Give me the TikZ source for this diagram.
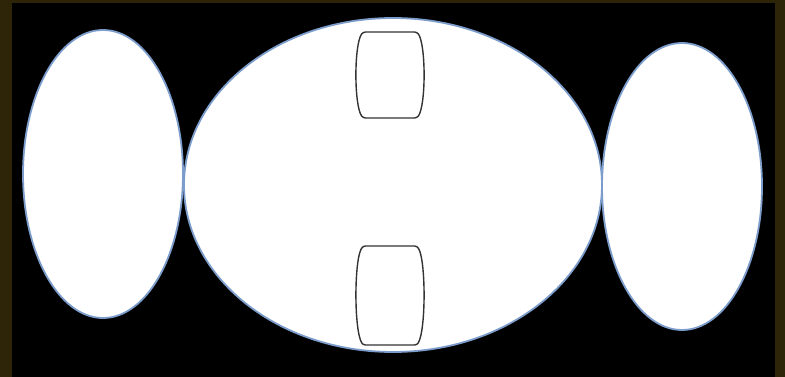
\documentclass[tikz,border=0pt]{standalone}
\definecolor{frame}{HTML}{2E2408}
\definecolor{rim}{HTML}{7C9CCB}
\begin{document}
\begin{tikzpicture}[x=1pt,y=-1pt,
  blob/.style={fill=white,draw=rim,line width=1.8pt},
  barrel/.style={draw=black!80,line width=1.4pt,fill=white,rounded corners=2.5pt}]
\fill[frame] (0,0) rectangle (785,377);
\fill[black] (12,3) rectangle (775,377);
\useasboundingbox (0,0) rectangle (785,377);
\draw[blob] (103,174) ellipse [x radius=80, y radius=144];
\draw[blob] (682,186.5) ellipse [x radius=80, y radius=143.5];
\draw[blob] (393,185) ellipse [x radius=209, y radius=167];
\draw[barrel] (390,32) -- (417,32) .. controls (426,45) and (426,105) .. (417,118) -- (363,118) .. controls (354,105) and (354,45) .. (363,32) -- cycle;
\draw[barrel] (390,246) -- (417,246) .. controls (426,260) and (426,330) .. (417,345) -- (363,345) .. controls (354,330) and (354,260) .. (363,246) -- cycle;
\end{tikzpicture}
\end{document}
